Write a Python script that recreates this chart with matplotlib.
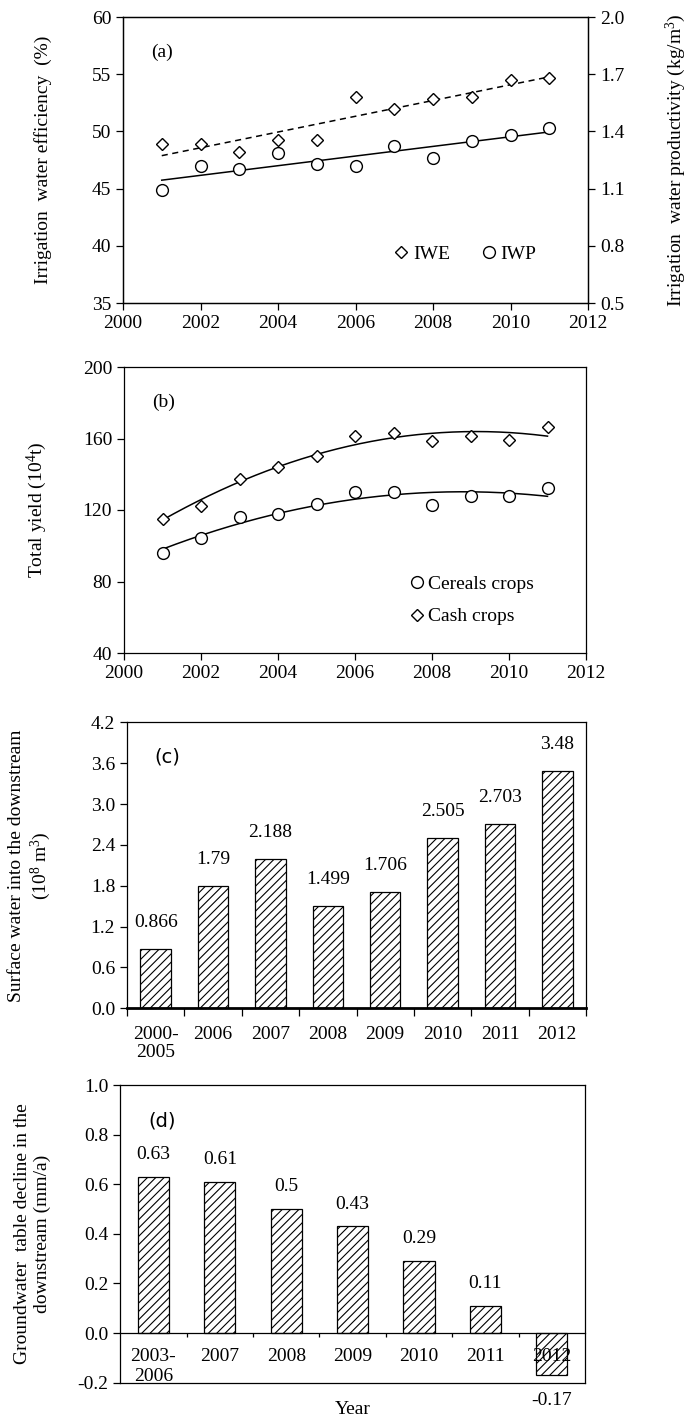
import numpy as np
import matplotlib
matplotlib.use("Agg")
import matplotlib.pyplot as plt
from matplotlib.lines import Line2D

plt.rcParams['font.family'] = ['Liberation Serif', 'DejaVu Serif']
plt.rcParams['mathtext.fontset'] = 'custom'
plt.rcParams['mathtext.rm'] = 'Liberation Serif'
plt.rcParams['mathtext.it'] = 'Liberation Serif:italic'
plt.rcParams['hatch.linewidth'] = 0.8

# ---------------- data ----------------
years = [2001, 2002, 2003, 2004, 2005, 2006, 2007, 2008, 2009, 2010, 2011]
iwe = [48.87, 48.87, 48.23, 49.27, 49.27, 53.02, 52.0, 52.85, 53.02, 54.45, 54.71]
iwp = [1.091, 1.217, 1.201, 1.288, 1.229, 1.219, 1.322, 1.260, 1.351, 1.381, 1.419]

cereals = [96.2, 104.2, 116.2, 118.0, 123.6, 129.8, 130.0, 122.7, 128.1, 127.6, 132.2]
cash = [115.1, 122.5, 137.6, 144.0, 150.3, 161.5, 163.2, 158.6, 161.5, 158.9, 166.4]

sw_labels = ['2000-\n2005', '2006', '2007', '2008', '2009', '2010', '2011', '2012']
sw_values = [0.866, 1.79, 2.188, 1.499, 1.706, 2.505, 2.703, 3.48]
sw_text = ['0.866', '1.79', '2.188', '1.499', '1.706', '2.505', '2.703', '3.48']

gw_labels = ['2003-\n2006', '2007', '2008', '2009', '2010', '2011', '2012']
gw_values = [0.63, 0.61, 0.5, 0.43, 0.29, 0.11, -0.17]
gw_text = ['0.63', '0.61', '0.5', '0.43', '0.29', '0.11', '-0.17']

FS = 14
W, H = 692, 1417
fig = plt.figure(figsize=(W / 100, H / 100), dpi=100)

def rect(l, r, t, b):
    return [l / W, 1 - b / H, (r - l) / W, (b - t) / H]

def style(ax):
    ax.tick_params(direction='out', labelsize=FS, length=5, width=0.9)
    for s in ax.spines.values():
        s.set_linewidth(0.9)

MS_D, MS_O = 6.5, 8.5

# ---------------- (a) ----------------
ax = fig.add_axes(rect(123, 588, 17, 303))
ax2 = ax.twinx()
x = np.array(years, dtype=float)
ax.plot(x, iwe, linestyle='none', marker='D', ms=MS_D, mfc='white', mec='black', mew=1.0, zorder=3)
p = np.polyfit(x, iwe, 1)
ax.plot(x[[0, -1]], np.polyval(p, x[[0, -1]]), 'k--', lw=1.1, dashes=(4, 3))
ax2.plot(x, iwp, linestyle='none', marker='o', ms=MS_O, mfc='white', mec='black', mew=1.0, zorder=3)
p2 = np.polyfit(x, iwp, 1)
ax2.plot(x[[0, -1]], np.polyval(p2, x[[0, -1]]), 'k-', lw=1.1)
ax.set_xlim(2000, 2012)
ax.set_ylim(35, 60)
ax2.set_ylim(0.5, 2.0)
ax.set_xticks(range(2000, 2013, 2))
ax.set_yticks(range(35, 61, 5))
ax2.set_yticks([0.5, 0.8, 1.1, 1.4, 1.7, 2.0])
ax2.set_yticklabels(['0.5', '0.8', '1.1', '1.4', '1.7', '2.0'])
style(ax); style(ax2)
ax.set_ylabel('Irrigation  water efficiency  (%)', fontsize=FS)
ax.yaxis.set_label_coords(-0.153, 0.5)
ax2.set_ylabel('Irrigation  water productivity (kg/m$^3$)', fontsize=FS)
ax2.yaxis.set_label_coords(1.163, 0.5)
ax.text(0.06, 0.86, '(a)', transform=ax.transAxes, fontsize=FS)
h1 = Line2D([], [], linestyle='none', marker='D', ms=MS_D, mfc='white', mec='black', mew=1.0)
h2 = Line2D([], [], linestyle='none', marker='o', ms=MS_O, mfc='white', mec='black', mew=1.0)
ax.legend([h1, h2], ['IWE', 'IWP'], loc='lower right', bbox_to_anchor=(0.927, 0.08), ncol=2,
          frameon=False, fontsize=FS, handletextpad=0.1, columnspacing=1.5, handlelength=1.0)

# ---------------- (b) ----------------
bx = fig.add_axes(rect(124, 586, 367, 653))
bx.plot(x, cereals, linestyle='none', marker='o', ms=MS_O, mfc='white', mec='black', mew=1.0, zorder=3)
bx.plot(x, cash, linestyle='none', marker='D', ms=MS_D, mfc='white', mec='black', mew=1.0, zorder=3)
xs = np.linspace(x[0], x[-1], 200)
for series in (cereals, cash):
    c = np.polyfit(x - 2000, series, 2)
    bx.plot(xs, np.polyval(c, xs - 2000), 'k-', lw=1.1)
bx.set_xlim(2000, 2012)
bx.set_ylim(40, 200)
bx.set_xticks(range(2000, 2013, 2))
bx.set_yticks(range(40, 201, 40))
style(bx)
bx.set_ylabel('Total yield (10$^4$t)', fontsize=FS)
bx.yaxis.set_label_coords(-0.162, 0.5)
bx.text(0.06, 0.86, '(b)', transform=bx.transAxes, fontsize=FS)
bx.legend([h2, h1], ['Cereals crops', 'Cash crops'], loc='lower right', bbox_to_anchor=(0.926, 0.035),
          frameon=False, fontsize=FS, handletextpad=0.1, handlelength=1.0, labelspacing=0.75)

# ---------------- (c) ----------------
cx = fig.add_axes(rect(127, 586, 722.3, 1008.3))
cx.set_axisbelow(False)
pos = np.arange(len(sw_values))
cx.bar(pos, sw_values, width=0.53, color='white', edgecolor='black', hatch='////', lw=0.9, zorder=2)
for xi, v, t in zip(pos, sw_values, sw_text):
    cx.annotate(t, (xi, v), xytext=(0, 13), textcoords='offset points', ha='center', va='bottom', fontsize=FS)
cx.set_xlim(-0.5, len(sw_values) - 0.5)
cx.set_ylim(0, 4.2)
cx.set_yticks(np.arange(0, 4.21, 0.6))
cx.set_yticklabels([f'{v:.1f}' for v in np.arange(0, 4.21, 0.6)])
cx.set_xticks(np.arange(-0.5, len(sw_values), 1.0))
cx.set_xticklabels([])
cx.set_xticks(pos, minor=True)
cx.set_xticklabels(sw_labels, minor=True, fontsize=FS, linespacing=1.05)
style(cx)
cx.tick_params(axis='x', which='major', length=6)
cx.tick_params(axis='x', which='minor', length=0, pad=13)
cx.spines['bottom'].set_linewidth(2.0)
cx.set_ylabel('Surface water into the downstream\n(10$^8$ m$^3$)', fontsize=FS, linespacing=1.2)
cx.yaxis.set_label_coords(-0.161, 0.5)
cx.text(0.06, 0.86, '(c)', transform=cx.transAxes, fontsize=FS, family='DejaVu Sans')

# ---------------- (d) ----------------
dx = fig.add_axes(rect(120.3, 585, 1085, 1382.7))
dx.set_axisbelow(False)
pos = np.arange(len(gw_values))
dx.bar(pos, gw_values, width=0.47, color='white', edgecolor='black', hatch='////', lw=0.9, zorder=2)
for xi, v, t in zip(pos, gw_values, gw_text):
    if v >= 0:
        dx.annotate(t, (xi, v), xytext=(0, 10), textcoords='offset points', ha='center', va='bottom', fontsize=FS)
    else:
        dx.annotate(t, (xi, v), xytext=(0, -12), textcoords='offset points', ha='center', va='top',
                    fontsize=FS, annotation_clip=False)
dx.set_xlim(-0.5, len(gw_values) - 0.5)
dx.set_ylim(-0.2, 1.0)
dx.set_yticks(np.arange(-0.2, 1.01, 0.2))
dx.set_yticklabels([f'{v:.1f}' for v in np.arange(-0.2, 1.01, 0.2)])
dx.spines['bottom'].set_position(('data', 0))
dx.add_line(Line2D([0, 1], [0, 0], transform=dx.transAxes, color='black', lw=0.9, clip_on=False))
dx.set_xticks(np.arange(0.5, len(gw_values) - 1, 1.0))
dx.set_xticklabels([])
dx.set_xticks(pos, minor=True)
dx.set_xticklabels(gw_labels, minor=True, fontsize=FS, linespacing=1.2)
style(dx)
dx.tick_params(axis='x', which='major', length=3)
dx.tick_params(axis='x', which='minor', length=0, pad=11)
dx.set_ylabel('Groundwater  table decline in the\ndownstream (mm/a)', fontsize=FS, linespacing=1.2)
dx.yaxis.set_label_coords(-0.149, 0.5)
dx.text(0.06, 0.86, '(d)', transform=dx.transAxes, fontsize=FS, family='DejaVu Sans')
dx.text(0.5, -0.105, 'Year', transform=dx.transAxes, ha='center', va='baseline', fontsize=FS)

fig.savefig('out.png', dpi=100)
